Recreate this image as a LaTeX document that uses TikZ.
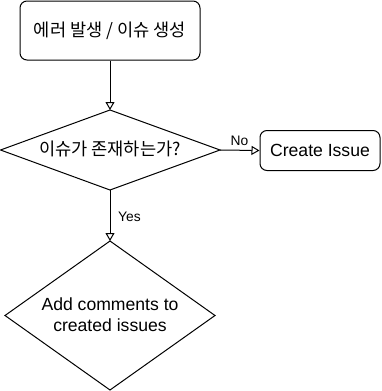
\documentclass[tikz,border=0pt]{standalone}
\usepackage{fontspec}
\setmainfont{Liberation Sans}
\newfontfamily\kr{Noto Sans CJK KR}
\usetikzlibrary{arrows.meta,shapes.geometric}
\begin{document}
\begin{tikzpicture}[x=1pt,y=-1pt,
  box/.style={draw,line width=1pt,rounded corners=7pt,inner sep=0pt},
  dia/.style={draw,line width=1pt,inner sep=0pt},
  conn/.style={line width=1pt,-{Triangle[open,length=8pt,width=9pt,fill=white]}},
  lbl/.style={font=\fontsize{13.8}{16}\selectfont,inner sep=0pt},
  txt/.style={font=\fontsize{17.6}{21}\selectfont}]
\useasboundingbox (0,0) rectangle (381,391);
\node[box,minimum width=180pt,minimum height=59pt,txt] (start) at (110,30.5) {\kr 에러 발생 / 이슈 생성};
\node[box,minimum width=120pt,minimum height=40pt,txt] (create) at (320,150.5) {Create Issue};
\path[dia] (110,110) coordinate (d1t) -- (220,150) coordinate (d1r) -- (110,190) coordinate (d1b) -- (0.5,150) coordinate (d1l) -- cycle;
\node[txt] (q) at (110,149) {\kr 이슈가 존재하는가?};
\path[dia] (110,241) coordinate (d2t) -- (215,315.5) coordinate (d2r) -- (110,390) coordinate (d2b) -- (5,315.5) coordinate (d2l) -- cycle;
\node[txt,align=center] (add) at (110,315) {Add comments to\\created issues};
\draw[conn] (start.south) -- (d1t);
\draw[conn] (d1r) -- (create.west);
\draw[conn] (d1b) -- (d2t);
\node[lbl] (no) at (239.5,141) {No};
\node[lbl] (yes) at (129.5,216.5) {Yes};
\end{tikzpicture}
\end{document}
